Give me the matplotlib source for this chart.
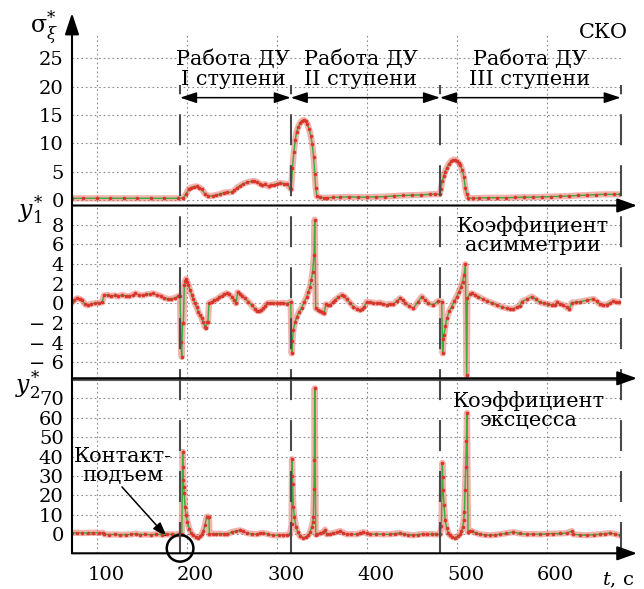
import matplotlib
matplotlib.use("Agg")
import matplotlib.pyplot as plt
import matplotlib.transforms as mtransforms
from matplotlib.lines import Line2D
from matplotlib.patches import FancyArrowPatch, Ellipse

plt.rcParams['font.family'] = ['DejaVu Serif']
plt.rcParams['mathtext.fontset'] = 'dejavuserif'
plt.rcParams['lines.scale_dashes'] = False

# --- data ---
t_sko = [72.5, 85, 100, 115, 130, 145, 160, 175, 190, 196, 199, 202, 205, 208, 211, 214, 217, 220,
         224, 229, 233, 237, 241, 245, 250, 253, 256, 259, 263, 267, 272, 275, 278, 281, 284, 287,
         291, 294, 297, 300, 304, 308, 311, 314.5, 316, 317.5, 319, 320.5, 322, 324, 326, 328, 330,
         332, 334, 336, 338, 339.5, 341, 342.3, 343.3, 344.5, 348, 352, 356, 362, 370, 380, 390, 400,
         410, 420, 430, 440, 450, 460, 470, 476, 481, 482.5, 484, 485.5, 487, 489, 491, 494, 496, 498,
         500, 502, 504, 506, 508, 509.5, 511, 513, 518, 525, 535, 545, 555, 565, 575, 585, 595, 605,
         615, 625, 635, 645, 655, 665, 675, 681]
sko = [0.3, 0.3, 0.3, 0.3, 0.3, 0.3, 0.3, 0.3, 0.3, 0.35, 1.0, 1.9, 2.2, 2.35, 2.4, 2.2, 1.9, 1.1,
       0.7, 0.75, 0.9, 1.0, 1.3, 1.35, 1.4, 1.7, 2.2, 2.5, 2.9, 3.1, 3.3, 3.35, 3.2, 2.9, 2.6, 2.8,
       2.4, 2.6, 2.7, 2.9, 3.0, 2.9, 2.8, 2.2, 1.9, 5.7, 8.5, 10.5, 12.0, 12.9, 13.6, 14.0, 14.1,
       13.9, 13.4, 12.5, 11.2, 9.8, 7.5, 4.5, 2.2, 0.7, 0.45, 0.4, 0.4, 0.45, 0.5, 0.55, 0.5, 0.5,
       0.55, 0.6, 0.7, 0.8, 0.85, 0.9, 1.0, 1.05, 1.0, 2.0, 3.4, 4.2, 5.0, 5.7, 6.3, 6.9, 7.1, 7.1,
       6.9, 6.6, 6.2, 5.3, 4.0, 2.2, 1.0, 0.35, 0.3, 0.35, 0.4, 0.4, 0.4, 0.45, 0.5, 0.5, 0.55, 0.6,
       0.65, 0.7, 0.8, 0.85, 0.95, 1.0, 1.0, 1.0]

t_asym = [72.5, 75, 78, 81, 84, 87, 90, 94, 98, 102, 106, 108, 112, 116, 120, 124, 128, 132, 136,
          140, 143, 147, 151, 155, 159, 163, 167, 171, 175, 179, 183, 187, 190, 192.5, 193.5, 194.4,
          195.3, 196.2, 197.3, 198.3, 199.2, 200.5, 201.8, 203.5, 205.5, 207.3, 209.2, 211, 212.9,
          214.7, 216.6, 218.4, 220.3, 221, 222.1, 223.5, 224.7, 227.7, 230.5, 233.3, 236, 238.8,
          241.5, 244.4, 247, 249.9, 252.5, 254.7, 256.6, 258.8, 261, 264.5, 268.4, 272, 275.9, 278.3,
          280.7, 283, 285.1, 287.3, 289.6, 293, 296.2, 300, 303.6, 307, 311, 315.5, 316.6, 317.5,
          318.4, 320.3, 322.2, 325, 327.7, 330.5, 333.3, 335.2, 337, 338.5, 339.9, 341.4, 342.2,
          343.3, 345.7, 348.1, 350.3, 352.5, 354.7, 357, 359.2, 362, 364.7, 368.5, 372.2, 375, 377.7,
          381.4, 385.1, 388.8, 392.5, 395, 397.3, 399.9, 403.6, 407.3, 411, 414.8, 418.5, 422.2, 426,
          429.6, 433.3, 437, 439.8, 442.6, 447.2, 451.8, 456.5, 461.1, 464.8, 468.5, 474, 479.6,
          483.3, 484.4, 485.2, 485.9, 487.4, 488.9, 491.7, 494.4, 497.2, 500, 502.4, 504.8, 506.5,
          508.1, 509.6, 511.1, 511.8, 514.2, 516.6, 520.3, 524, 528.7, 533.3, 539, 544.4, 550, 555.5,
          559.2, 562.9, 566.6, 570.3, 572.2, 577.8, 583.3, 588, 592.6, 597.2, 601.8, 605.5, 609.2,
          611.1, 614.8, 618.5, 622, 625.2, 627.8, 632.4, 637, 644.4, 651.8, 655.5, 659.2, 663, 666.6,
          670.3, 674.1, 677.5, 680.7]
asym = [0.1, 0.3, 0.5, 0.45, 0.3, -0.1, -0.2, -0.05, 0.0, 0.05, 0.1, 0.8, 0.85, 0.75, 0.8, 0.7, 0.85,
        0.75, 0.7, 0.85, 1.0, 0.85, 0.8, 0.9, 0.95, 1.0, 0.85, 0.75, 0.55, 0.45, 0.45, 0.55, 0.7, 0.78,
        -3.9, -5.45, -2.0, -2.05, 1.87, 2.3, 2.48, 2.2, 1.87, 1.4, 0.85, 0.4, 0.0, -0.4, -0.85, -1.2,
        -1.54, -1.95, -2.39, -2.5, -1.88, -1.9, 0.0, 0.17, 0.3, 0.4, 0.6, 0.78, 0.9, 1.02, 0.9, 0.68,
        0.35, 0.0, 1.12, 0.95, 0.78, 0.5, 0.17, -0.2, -0.58, -0.75, -0.79, -0.7, -0.51, -0.25, 0.0,
        0.05, 0.07, 0.0, 0.0, 0.05, -0.03, 0.17, -5.1, -3.8, -2.7, -1.9, -1.36, -0.85, -0.44, 0.1,
        0.68, 1.2, 1.7, 2.4, 3.23, 4.94, 8.5, -0.51, -0.65, -0.79, -0.9, -1.02, -0.1, -0.2, -0.17, 0.1,
        0.34, 0.6, 0.85, 0.7, 0.44, 0.05, -0.34, -0.55, -0.68, -0.6, -0.34, 0.17, 0.1, 0.07, 0.0, 0.07,
        -0.05, -0.17, -0.05, -0.1, 0.2, 0.51, 0.3, 0.0, -0.25, -0.51, 0.1, 0.68, 0.35, 0.0, -0.17,
        0.24, 0.17, -5.1, -3.6, -3.25, -2.3, -1.54, -0.8, -0.34, 0.2, 0.68, 1.2, 1.7, 2.2, 2.9, 3.98,
        -7.33, 0.51, 0.9, 1.02, 0.85, 0.68, 0.45, 0.24, 0.05, -0.17, -0.35, -0.51, -0.55, -0.58, -0.4,
        -0.24, 0.17, 0.4, 0.68, 0.4, 0.1, 0.0, -0.1, -0.15, -0.17, 0.1, -0.05, -0.17, -0.4, -0.58,
        0.07, 0.1, 0.17, 0.3, 0.44, 0.2, -0.1, -0.15, -0.17, 0.05, 0.24, 0.15, 0.1]

t_exc = [72.5, 78, 84, 90, 96, 102, 107, 108.5, 114, 120, 126, 132, 138, 144, 148, 154, 160, 166,
         172, 178, 184, 190, 194.5, 195.5, 195.8, 196.2, 196.6, 197.2, 198.1, 199.2, 200.7, 202.9,
         205, 207.3, 210, 212.9, 215, 216.6, 218.5, 220.3, 222.1, 223.5, 224.7, 225.1, 229.5, 233,
         237, 241, 244.4, 249.9, 255, 259.2, 263, 266.6, 272, 277.7, 281, 285.1, 290, 296.2, 302,
         307.3, 311, 314.7, 316.5, 317, 317.4, 317.7, 318.4, 319.6, 321.4, 323.5, 325.9, 329.6,
         332.5, 335.1, 337, 338.8, 340.1, 340.7, 341.4, 341.8, 342.2, 343.3, 344.4, 348, 351.8, 353.6,
         355.5, 359, 362.9, 366.6, 370.3, 374, 377.7, 383, 388.8, 392.5, 396.2, 399.9, 403.6, 410,
         418.5, 425.9, 431, 437, 441, 446, 451.8, 457, 462, 466.6, 472, 477, 481.4, 483, 484, 484.4,
         484.8, 485.9, 487, 488.9, 490.7, 492.6, 495.3, 498.1, 501, 503.7, 505.2, 506.6, 507.7, 508.5,
         509.2, 510, 510.8, 511.4, 512.6, 514.5, 516.6, 521, 525.9, 531, 537, 542, 548.1, 555, 562.9,
         570, 577.8, 585, 592.6, 600, 607.4, 615, 622.2, 627.8, 629.6, 637, 644.4, 652, 659.2, 665,
         670.3, 676, 681]
exc = [0.6, 0.7, 0.5, 0.6, 0.7, 0.6, 0.6, -0.2, -0.3, -0.2, -0.4, -0.3, -0.2, 0.2, -0.3, -0.2, -0.4,
       -0.1, -0.3, -0.2, -0.2, -0.16, -0.1, 42.4, 34.6, 27.8, 24.4, 21.0, 13.8, 9.6, 6.2, 2.7, 0.6,
       -0.7, -1.5, -1.9, -1.2, -0.16, 1.8, 4.5, 8.8, 9.0, 8.8, -0.16, 0.2, 0.1, 0.2, 0.0, -0.16, 1.0,
       1.6, 1.9, 1.3, 0.5, 0.1, -0.16, 0.3, 0.5, 0.0, -0.7, -0.6, -0.7, -0.4, -0.16, 5.0, 38.6, 30.0,
       26.0, 13.8, 8.8, 3.6, 0.8, -1.2, -1.9, -1.5, -0.7, 0.8, 3.6, 6.0, 8.8, 23.4, 38.0, 75.2, -0.3,
       -0.16, 0.3, 1.0, 2.3, -0.16, 0.1, 0.5, 1.0, 1.5, 0.6, -0.16, -0.1, -0.16, 0.4, 1.0, 0.3, -0.16,
       0.0, -0.16, -0.16, 0.2, 0.5, -0.16, -0.3, -0.7, -0.3, 0.0, -0.16, 0.0, -0.2, -0.16, 4.0, 36.7,
       29.5, 22.6, 14.8, 7.2, 2.9, 0.5, -0.7, -1.5, -1.9, -1.2, -0.16, 1.5, 3.6, 7.0, 11.4, 22.6,
       34.6, 48.0, 62.5, 1.0, 1.8, 1.5, 0.6, -0.16, -0.4, -0.7, -0.4, -0.16, 0.4, 1.0, 0.3, -0.16,
       0.0, -0.16, 0.1, 0.2, 0.3, 0.5, 1.5, -0.16, -0.4, -0.7, -0.3, -0.16, 0.2, 0.5, 0.0, -0.7]

stage_bounds = [192.6, 315.6, 481.4, 682.2]
stage_labels = ['Работа ДУ\nI ступени', 'Работа ДУ\nII ступени', 'Работа ДУ\nIII ступени']

x_ticks = [100, 200, 300, 400, 500, 600]
sko_ticks = [0, 5, 10, 15, 20, 25]
asym_ticks = [-6, -4, -2, 0, 2, 4, 6, 8]
asym_ticklabels = ['− 6', '− 4', '− 2', '0', '2', '4', '6', '8']
exc_ticks = [0, 10, 20, 30, 40, 50, 60, 70]

W, H = 644, 589
fig = plt.figure(figsize=(W / 100, H / 100), dpi=100)


def fx(x):
    return x / W


def fy(y):
    return 1 - y / H


left, right = 72, 620.7
ax1 = fig.add_axes([fx(left), fy(205.5), (right - left) / W, (205.5 - 35) / H])
ax2 = fig.add_axes([fx(left), fy(378.3), (right - left) / W, (378.3 - 205.5) / H])
ax3 = fig.add_axes([fx(left), fy(553.3), (right - left) / W, (553.3 - 380) / H])

ax1.set_ylim(-0.97, 29.1)
ax2.set_ylim(-7.63, 9.95)
ax3.set_ylim(-9.96, 79.5)

for ax in (ax1, ax2, ax3):
    ax.set_xlim(72.5, 682.2)
    ax.set_xticks(x_ticks)
    ax.grid(True, linestyle=(0, (1.2, 2.0)), color='#8a8a8a', lw=0.8)
    ax.tick_params(length=0, labelsize=14, pad=6)
    for s in ax.spines.values():
        s.set_visible(False)
    ax.set_facecolor('none')

ax1.set_yticks(sko_ticks)
ax2.set_yticks(asym_ticks)
ax2.set_yticklabels(asym_ticklabels)
ax3.set_yticks(exc_ticks)
ax1.tick_params(labelbottom=False)
ax2.tick_params(labelbottom=False)
ax3.tick_params(axis='x', pad=9)
ax3.spines['top'].set_visible(True)
ax3.spines['top'].set_color('#555555')
ax3.spines['top'].set_linewidth(1.5)

shift = mtransforms.ScaledTranslation(0.09, 0, fig.dpi_scale_trans)
for lab in ax3.get_xticklabels():
    lab.set_transform(lab.get_transform() + shift)


def draw_series(ax, t, v):
    ax.plot(t, v, color='#e8675c', lw=4.5, alpha=0.5, solid_joinstyle='round', zorder=3)
    ax.plot(t, v, color='#3aad3a', lw=1.0, zorder=4)
    ax.plot(t, v, ls='none', marker='o', ms=2.6, mec='none', mfc='#d9352b', zorder=5)


draw_series(ax1, t_sko, sko)
draw_series(ax2, t_asym, asym)
draw_series(ax3, t_exc, exc)

# dashed stage boundaries through all panels
blend = mtransforms.blended_transform_factory(ax3.transData, fig.transFigure)
for tb in stage_bounds:
    fig.add_artist(Line2D([tb, tb], [fy(553.3), fy(85)], transform=blend, color='#4a4a4a',
                          lw=1.5, dashes=(22.3, 14.4), zorder=6))

# double-headed arrows for the stages
for a, b in zip(stage_bounds[:-1], stage_bounds[1:]):
    ax1.add_patch(FancyArrowPatch((a, 18.05), (b, 18.05), arrowstyle='<|-|>,head_length=10,head_width=3.3',
                                  mutation_scale=1, color='black', lw=1.1, shrinkA=0, shrinkB=0,
                                  clip_on=False, zorder=7))

# multi-line texts: va='baseline' pins the last line's baseline
for i, lab in enumerate(stage_labels):
    mid = [233, 360.5, 530][i]
    fig.text(fx(mid), fy(85), lab, ha='center', va='baseline', fontsize=15, multialignment='center',
             linespacing=1.06)

# axes lines with arrows
for ybot in (205.5, 378.3, 553.3):
    fig.add_artist(FancyArrowPatch((fx(left), fy(ybot)), (fx(637), fy(ybot)), transform=fig.transFigure,
                                   arrowstyle='-|>,head_length=12,head_width=4.3', mutation_scale=1,
                                   color='black', lw=1.5, shrinkA=0, shrinkB=0, zorder=8))
fig.add_artist(FancyArrowPatch((fx(left), fy(553.3)), (fx(left), fy(13)), transform=fig.transFigure,
                               arrowstyle='-|>,head_length=13,head_width=4.3', mutation_scale=1,
                               color='black', lw=1.5, shrinkA=0, shrinkB=0, zorder=8))

# labels
fig.text(fx(30), fy(34), r'$\mathrm{\sigma}^{*}_{\xi}$', fontsize=17, ha='left', va='baseline')
fig.text(fx(18), fy(217), r'$y^{*}_{1}$', fontsize=17, ha='left', va='baseline')
fig.text(fx(15), fy(392), r'$y^{*}_{2}$', fontsize=17, ha='left', va='baseline')
fig.text(fx(602), fy(585), r'$t$, с', fontsize=14, ha='left', va='baseline')

fig.text(fx(628), fy(37.5), 'СКО', fontsize=15, ha='right', va='baseline')
fig.text(fx(533), fy(251), 'Коэффициент\nасимметрии', fontsize=15, ha='center', va='baseline',
         multialignment='center', linespacing=0.97)
fig.text(fx(529), fy(426), 'Коэффициент\nэксцесса', fontsize=15, ha='center', va='baseline',
         multialignment='center', linespacing=0.97)
fig.text(fx(123), fy(481), 'Контакт-\nподъем', fontsize=15, ha='center', va='baseline',
         multialignment='center', linespacing=1.0)

ax3.annotate('', xy=(178, -1.5), xytext=(128, 24.3),
             arrowprops=dict(arrowstyle='-|>,head_length=0.9,head_width=0.3', color='black', lw=1.1,
                             shrinkA=0, shrinkB=0), annotation_clip=False)
ax3.add_patch(Ellipse((192.6, -7.4), 29.6, 13.7, fill=False, color='black', lw=1.8, clip_on=False,
                      zorder=9))

fig.savefig('out.png', dpi=100)
